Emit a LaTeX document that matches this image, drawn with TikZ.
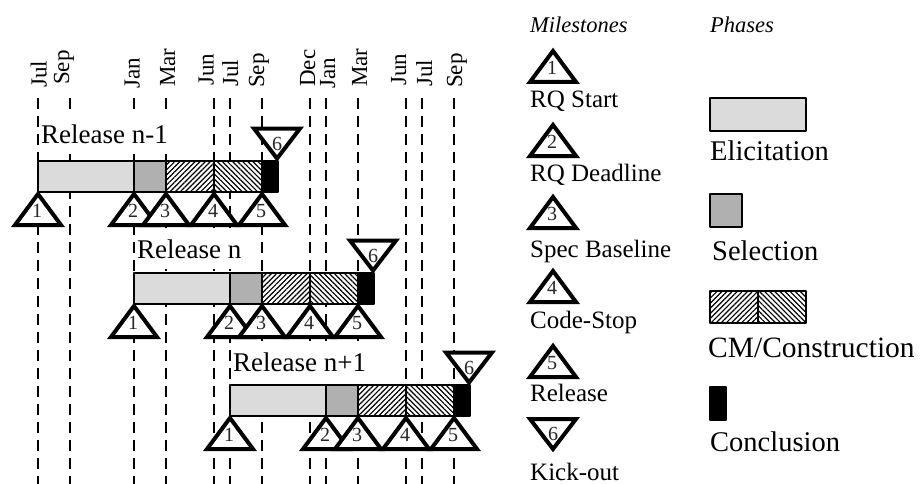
\documentclass[tikz,border=0pt]{standalone}
\usepackage{fontspec}
\setmainfont{Liberation Serif}
\usetikzlibrary{patterns.meta}
\tikzset{
  tri/.style={draw=black,fill=white,line width=4pt,line join=miter,miter limit=10},
  num/.style={font=\fontsize{20}{20}\selectfont,inner sep=0pt,text=black!85},
  month/.style={rotate=90,anchor=base west,font=\fontsize{23}{23}\selectfont,inner sep=0pt},
  guide/.style={line width=2.4pt,dash pattern=on 11pt off 7pt},
  rel/.style={anchor=base west,fill=white,inner xsep=1pt,inner ysep=11pt,font=\fontsize{27}{27}\selectfont},
  bar/.style={draw=black,line width=2pt,line join=round},
  elic/.style={bar,fill=black!14},
  sel/.style={bar,fill=black!31},
  cma/.style={bar,preaction={fill=white},pattern={Lines[angle=45,distance=3.6pt,line width=1.2pt]}},
  cmb/.style={bar,preaction={fill=white},pattern={Lines[angle=-45,distance=3.6pt,line width=1.2pt]}},
  conc/.style={bar,fill=black},
  leg/.style={anchor=base west,inner sep=0pt,font=\fontsize{25}{25}\selectfont},
  legb/.style={anchor=base west,inner sep=0pt,font=\fontsize{28.5}{28.5}\selectfont},
  head/.style={anchor=base west,inner sep=0pt,font=\itshape\fontsize{22.5}{22.5}\selectfont},
}
\newcommand{\uptri}[4]{%
  \draw[tri] (#1,#2) -- (#1+23,#2+31) -- (#1-23,#2+31) -- cycle;
  \node[num] (#4) at (#1-1,#2+17) {#3};}
\newcommand{\downtri}[4]{%
  \draw[tri] (#1-23,#2) -- (#1+23,#2) -- (#1,#2+30) -- cycle;
  \node[num] (#4) at (#1,#2+15) {#3};}
\begin{document}
\begin{tikzpicture}[x=1pt,y=-1pt]
\useasboundingbox (0,0) rectangle (920,484);
\foreach \mx/\mn/\mt/\mb/\my in {38/Jul/a/46.5/88,70/Sep/b/69/85,134/Jan/c/139.5/89,166/Mar/d/175/87,214/Jun/e/213.5/86,230/Jul/f/238/87,262/Sep/g/264/88,310/Dec/h/315/87,326/Jan/i/335/89,358/Mar/j/367/87,406/Jun/k/406/86,422/Jul/l/432/87,454/Sep/m/462/88}{
  \coordinate (t\mt) at (\mx,98);
  \coordinate (u\mt) at (\mx,484);
  \draw[guide] (t\mt) -- (u\mt);
  \node[month] (l\mt) at (\mb,\my) {\mn};
}
\foreach \rw/\dx/\dy/\lab/\ly in {a/0/0/Release n-1/143,b/96/112/Release n/258,c/192/224/Release n+1/371}{
  \node[rel] (rel\rw) at (40+\dx,\ly) {\lab};
  \path[elic] (38+\dx,160.5+\dy) rectangle (134+\dx,192+\dy);
  \path[sel] (134+\dx,160.5+\dy) rectangle (166+\dx,192+\dy);
  \path[cma] (166+\dx,160.5+\dy) rectangle (214+\dx,192+\dy);
  \path[cmb] (214+\dx,160.5+\dy) rectangle (262+\dx,192+\dy);
  \path[conc] (262+\dx,160.5+\dy) rectangle (278+\dx,192+\dy);
  \uptri{38+\dx}{194+\dy}{1}{n1\rw}
  \uptri{134+\dx}{194+\dy}{2}{n2\rw}
  \uptri{166+\dx}{194+\dy}{3}{n3\rw}
  \uptri{214+\dx}{194+\dy}{4}{n4\rw}
  \uptri{262+\dx}{194+\dy}{5}{n5\rw}
  \downtri{277+\dx}{128.5+\dy}{6}{n6\rw}
}
\node[head] (hm) at (530,33) {Milestones};
\node[head] (hp) at (710,33) {Phases};
\uptri{553}{51}{1}{k1}
\uptri{553}{125}{2}{k2}
\uptri{553}{197}{3}{k3}
\uptri{553}{271}{4}{k4}
\uptri{553}{346}{5}{k5}
\downtri{553}{419}{6}{k6}
\node[leg] (t1) at (530,107) {RQ Start};
\node[leg] (t2) at (530,181) {RQ Deadline};
\node[leg] (t3) at (530,257) {Spec Baseline};
\node[leg] (t4) at (530,328) {Code-Stop};
\node[leg] (t5) at (530,401) {Release};
\node[leg] (t6) at (530,480) {Kick-out};
\path[elic] (709.5,98) rectangle (806,130.5);
\path[sel] (709.5,194) rectangle (742,226.5);
\path[cma] (709.5,290.5) rectangle (757.5,322.5);
\path[cmb] (757.5,290.5) rectangle (806,322.5);
\path[conc] (709.5,386.5) rectangle (726,419.5);
\node[legb] (p1) at (710,160.5) {Elicitation};
\node[legb] (p2) at (712,260) {Selection};
\node[legb,font=\fontsize{29.5}{29.5}\selectfont] (p3) at (708,357) {CM/Construction};
\node[legb] (p4) at (710,451) {Conclusion};
\end{tikzpicture}
\end{document}
